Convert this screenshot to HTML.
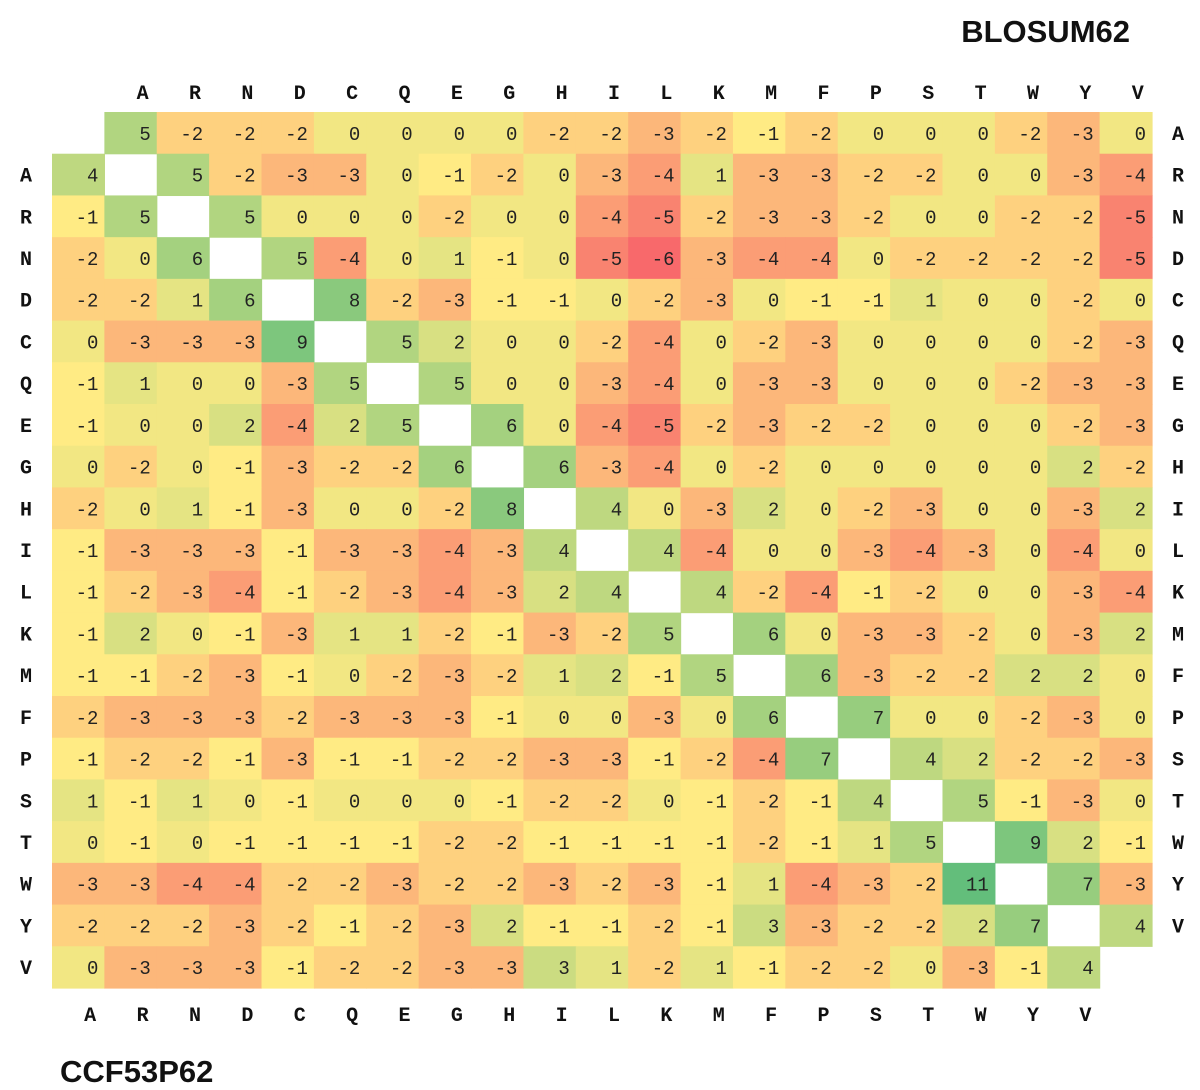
<!DOCTYPE html>
<html><head><meta charset="utf-8">
<style>
body{margin:0;background:#fff;}
svg{display:block;}
.v{font-family:"Liberation Mono",monospace;font-size:19px;fill:#222;}
.l{font-family:"Liberation Mono",monospace;font-size:20px;font-weight:bold;fill:#111;}
.t{font-family:"Liberation Sans",sans-serif;font-size:31px;font-weight:bold;fill:#111;}
</style></head>
<body>
<svg id="chart" width="1200" height="1090">
<text class="t" x="1130" y="42" text-anchor="end">BLOSUM62</text>
<text class="t" x="60" y="1082">CCF53P62</text>
<g id="cells"></g>
<g id="labels"></g>
</svg>
<script>
const aminoAcids = ["A","R","N","D","C","Q","E","G","H","I","L","K","M","F","P","S","T","W","Y","V"];
// upper triangle rows (BLOSUM62 as shown), row i contains values for columns i..19
const upperRows = [
[5,-2,-2,-2,0,0,0,0,-2,-2,-3,-2,-1,-2,0,0,0,-2,-3,0],
[5,-2,-3,-3,0,-1,-2,0,-3,-4,1,-3,-3,-2,-2,0,0,-3,-4],
[5,0,0,0,-2,0,0,-4,-5,-2,-3,-3,-2,0,0,-2,-2,-5],
[5,-4,0,1,-1,0,-5,-6,-3,-4,-4,0,-2,-2,-2,-2,-5],
[8,-2,-3,-1,-1,0,-2,-3,0,-1,-1,1,0,0,-2,0],
[5,2,0,0,-2,-4,0,-2,-3,0,0,0,0,-2,-3],
[5,0,0,-3,-4,0,-3,-3,0,0,0,-2,-3,-3],
[6,0,-4,-5,-2,-3,-2,-2,0,0,0,-2,-3],
[6,-3,-4,0,-2,0,0,0,0,0,2,-2],
[4,0,-3,2,0,-2,-3,0,0,-3,2],
[4,-4,0,0,-3,-4,-3,0,-4,0],
[4,-2,-4,-1,-2,0,0,-3,-4],
[6,0,-3,-3,-2,0,-3,2],
[6,-3,-2,-2,2,2,0],
[7,0,0,-2,-3,0],
[4,2,-2,-2,-3],
[5,-1,-3,0],
[9,2,-1],
[7,-3],
[4]
];
// lower triangle rows (CCF53P62), row i contains values for columns 0..i
const lowerRows = [
[4],
[-1,5],
[-2,0,6],
[-2,-2,1,6],
[0,-3,-3,-3,9],
[-1,1,0,0,-3,5],
[-1,0,0,2,-4,2,5],
[0,-2,0,-1,-3,-2,-2,6],
[-2,0,1,-1,-3,0,0,-2,8],
[-1,-3,-3,-3,-1,-3,-3,-4,-3,4],
[-1,-2,-3,-4,-1,-2,-3,-4,-3,2,4],
[-1,2,0,-1,-3,1,1,-2,-1,-3,-2,5],
[-1,-1,-2,-3,-1,0,-2,-3,-2,1,2,-1,5],
[-2,-3,-3,-3,-2,-3,-3,-3,-1,0,0,-3,0,6],
[-1,-2,-2,-1,-3,-1,-1,-2,-2,-3,-3,-1,-2,-4,7],
[1,-1,1,0,-1,0,0,0,-1,-2,-2,0,-1,-2,-1,4],
[0,-1,0,-1,-1,-1,-1,-2,-2,-1,-1,-1,-1,-2,-1,1,5],
[-3,-3,-4,-4,-2,-2,-3,-2,-2,-3,-2,-3,-1,1,-4,-3,-2,11],
[-2,-2,-2,-3,-2,-1,-2,-3,2,-1,-1,-2,-1,3,-3,-2,-2,2,7],
[0,-3,-3,-3,-1,-2,-2,-3,-3,3,1,-2,1,-1,-2,-2,0,-3,-1,4]
];
const scaleMin = -6, scaleMid = -1, scaleMax = 11;

const NS = "http://www.w3.org/2000/svg";
const X0 = 52, Y0 = 112, CW = 1100/21, CH = 876/21;
function xPos(c){ return X0 + c*CW; }
function yPos(r){ return Y0 + r*CH; }
function lerp(a,b,t){ return Math.round(a+(b-a)*t); }
function color(v){
  const red=[248,105,107], yel=[255,235,132], grn=[99,190,123];
  let a,b,t;
  if(v<=scaleMid){ a=red;b=yel;t=(v-scaleMin)/(scaleMid-scaleMin); }
  else { a=yel;b=grn;t=(v-scaleMid)/(scaleMax-scaleMid); }
  t=Math.max(0,Math.min(1,t));
  return `rgb(${lerp(a[0],b[0],t)},${lerp(a[1],b[1],t)},${lerp(a[2],b[2],t)})`;
}
const cells = document.getElementById('cells');
function drawCell(r,c,v,name){
  const rect=document.createElementNS(NS,'rect');
  rect.setAttribute('x',xPos(c)); rect.setAttribute('y',yPos(r));
  rect.setAttribute('width',CW+0.6); rect.setAttribute('height',CH+0.6);
  rect.setAttribute('fill',color(v));
  
  
  cells.appendChild(rect);
  const tx=document.createElementNS(NS,'text');
  tx.setAttribute('class','v');
  tx.setAttribute('x',xPos(c)+CW-6); tx.setAttribute('y',yPos(r)+CH/2+7);
  tx.setAttribute('text-anchor','end');
  tx.textContent = v<0 ? '\u2212'.replace('\u2212','-')+Math.abs(v) : String(v);
  
  
  cells.appendChild(tx);
}
upperRows.forEach((row,i)=>{
  row.forEach((v,k)=>{ const j=i+k; drawCell(i, j+1, v, 'upper-cell-'+aminoAcids[i]+'-'+aminoAcids[j]); });
});
lowerRows.forEach((row,i)=>{
  row.forEach((v,j)=>{ drawCell(i+1, j, v, 'lower-cell-'+aminoAcids[i]+'-'+aminoAcids[j]); });
});
const labels=document.getElementById('labels');
function label(x,y,t,name){
  const tx=document.createElementNS(NS,'text');
  tx.setAttribute('class','l'); tx.setAttribute('x',x); tx.setAttribute('y',y);
  tx.setAttribute('text-anchor','middle'); tx.textContent=t;
  
  
  labels.appendChild(tx);
}
aminoAcids.forEach((a,i)=>{
  label(xPos(i+1)+CW/2+12, 99, a, 'top-label-'+a);
  label(1178, yPos(i)+CH/2+7, a, 'right-label-'+a);
  label(26, yPos(i+1)+CH/2+7, a, 'left-label-'+a);
  label(xPos(i)+CW/2+12, 1021, a, 'bottom-label-'+a);
});
</script>
</body></html>
